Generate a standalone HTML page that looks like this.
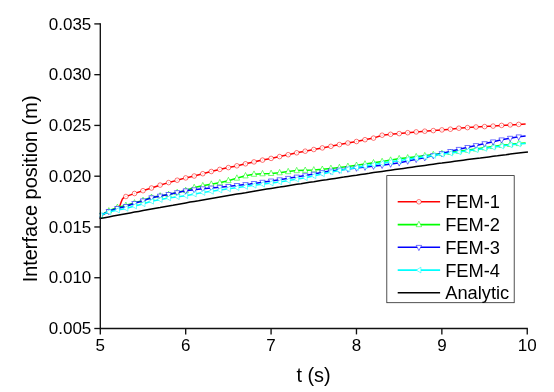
<!DOCTYPE html>
<html><head><meta charset="utf-8"><title>Interface position</title>
<style>html,body{margin:0;padding:0;background:#fff;}body{width:554px;height:392px;overflow:hidden;font-family:"Liberation Sans",sans-serif;}</style>
</head><body>
<svg width="554" height="392" viewBox="0 0 554 392" style="display:block;will-change:transform">
<rect width="554" height="392" fill="#fff"/>
<clipPath id="pc"><rect x="99.3" y="20" width="432" height="309"/></clipPath><g clip-path="url(#pc)">
<polyline points="100.5,216.0 108.5,211.5 117.0,208.5 119.6,206.5 121.0,202.6 122.4,199.0 124.0,197.4 125.7,196.6 134.1,193.6 142.8,190.8 151.5,188.0 159.8,185.2 168.5,182.6 177.1,180.2 185.6,177.9 194.2,176.0 202.7,173.7 210.9,171.6 219.6,169.5 228.2,167.6 236.7,165.9 245.3,163.8 253.9,161.9 262.5,160.1 271.0,158.4 279.5,156.6 288.1,154.7 296.6,152.8 305.2,151.2 313.7,149.5 322.3,147.9 330.9,146.3 339.4,144.6 348.0,143.0 356.4,141.5 364.9,139.7 373.4,138.1 382.1,135.2 390.7,134.3 399.4,133.6 407.8,132.7 416.3,131.9 424.9,131.2 433.4,130.6 441.8,129.9 450.3,129.2 458.9,128.2 467.4,127.6 475.8,127.0 484.6,126.6 493.2,126.1 501.5,125.4 510.1,124.9 518.6,124.4 525.6,123.9" fill="none" stroke="#ff0000" stroke-width="1.5" stroke-linejoin="round"/><circle cx="100.3" cy="216.0" r="2.3" fill="#fff" stroke="#ff0000" stroke-width="0.55"/><circle cx="100.3" cy="216.0" r="0.7" fill="#ff0000" opacity="0.25"/><circle cx="108.8" cy="211.4" r="2.3" fill="#fff" stroke="#ff0000" stroke-width="0.55"/><circle cx="108.8" cy="211.4" r="0.7" fill="#ff0000" opacity="0.25"/><circle cx="117.4" cy="208.2" r="2.3" fill="#fff" stroke="#ff0000" stroke-width="0.55"/><circle cx="117.4" cy="208.2" r="0.7" fill="#ff0000" opacity="0.25"/><circle cx="125.9" cy="196.5" r="2.3" fill="#fff" stroke="#ff0000" stroke-width="0.55"/><circle cx="125.9" cy="196.5" r="0.7" fill="#ff0000" opacity="0.25"/><circle cx="134.5" cy="193.5" r="2.3" fill="#fff" stroke="#ff0000" stroke-width="0.55"/><circle cx="134.5" cy="193.5" r="0.7" fill="#ff0000" opacity="0.25"/><circle cx="143.0" cy="190.7" r="2.3" fill="#fff" stroke="#ff0000" stroke-width="0.55"/><circle cx="143.0" cy="190.7" r="0.7" fill="#ff0000" opacity="0.25"/><circle cx="151.5" cy="188.0" r="2.3" fill="#fff" stroke="#ff0000" stroke-width="0.55"/><circle cx="151.5" cy="188.0" r="0.7" fill="#ff0000" opacity="0.25"/><circle cx="160.1" cy="185.1" r="2.3" fill="#fff" stroke="#ff0000" stroke-width="0.55"/><circle cx="160.1" cy="185.1" r="0.7" fill="#ff0000" opacity="0.25"/><circle cx="168.6" cy="182.6" r="2.3" fill="#fff" stroke="#ff0000" stroke-width="0.55"/><circle cx="168.6" cy="182.6" r="0.7" fill="#ff0000" opacity="0.25"/><circle cx="177.2" cy="180.2" r="2.3" fill="#fff" stroke="#ff0000" stroke-width="0.55"/><circle cx="177.2" cy="180.2" r="0.7" fill="#ff0000" opacity="0.25"/><circle cx="185.7" cy="177.9" r="2.3" fill="#fff" stroke="#ff0000" stroke-width="0.55"/><circle cx="185.7" cy="177.9" r="0.7" fill="#ff0000" opacity="0.25"/><circle cx="194.2" cy="176.0" r="2.3" fill="#fff" stroke="#ff0000" stroke-width="0.55"/><circle cx="194.2" cy="176.0" r="0.7" fill="#ff0000" opacity="0.25"/><circle cx="202.8" cy="173.7" r="2.3" fill="#fff" stroke="#ff0000" stroke-width="0.55"/><circle cx="202.8" cy="173.7" r="0.7" fill="#ff0000" opacity="0.25"/><circle cx="211.3" cy="171.5" r="2.3" fill="#fff" stroke="#ff0000" stroke-width="0.55"/><circle cx="211.3" cy="171.5" r="0.7" fill="#ff0000" opacity="0.25"/><circle cx="219.8" cy="169.4" r="2.3" fill="#fff" stroke="#ff0000" stroke-width="0.55"/><circle cx="219.8" cy="169.4" r="0.7" fill="#ff0000" opacity="0.25"/><circle cx="228.4" cy="167.6" r="2.3" fill="#fff" stroke="#ff0000" stroke-width="0.55"/><circle cx="228.4" cy="167.6" r="0.7" fill="#ff0000" opacity="0.25"/><circle cx="236.9" cy="165.8" r="2.3" fill="#fff" stroke="#ff0000" stroke-width="0.55"/><circle cx="236.9" cy="165.8" r="0.7" fill="#ff0000" opacity="0.25"/><circle cx="245.5" cy="163.8" r="2.3" fill="#fff" stroke="#ff0000" stroke-width="0.55"/><circle cx="245.5" cy="163.8" r="0.7" fill="#ff0000" opacity="0.25"/><circle cx="254.0" cy="161.9" r="2.3" fill="#fff" stroke="#ff0000" stroke-width="0.55"/><circle cx="254.0" cy="161.9" r="0.7" fill="#ff0000" opacity="0.25"/><circle cx="262.5" cy="160.1" r="2.3" fill="#fff" stroke="#ff0000" stroke-width="0.55"/><circle cx="262.5" cy="160.1" r="0.7" fill="#ff0000" opacity="0.25"/><circle cx="271.1" cy="158.4" r="2.3" fill="#fff" stroke="#ff0000" stroke-width="0.55"/><circle cx="271.1" cy="158.4" r="0.7" fill="#ff0000" opacity="0.25"/><circle cx="279.6" cy="156.6" r="2.3" fill="#fff" stroke="#ff0000" stroke-width="0.55"/><circle cx="279.6" cy="156.6" r="0.7" fill="#ff0000" opacity="0.25"/><circle cx="288.2" cy="154.7" r="2.3" fill="#fff" stroke="#ff0000" stroke-width="0.55"/><circle cx="288.2" cy="154.7" r="0.7" fill="#ff0000" opacity="0.25"/><circle cx="296.7" cy="152.8" r="2.3" fill="#fff" stroke="#ff0000" stroke-width="0.55"/><circle cx="296.7" cy="152.8" r="0.7" fill="#ff0000" opacity="0.25"/><circle cx="305.2" cy="151.2" r="2.3" fill="#fff" stroke="#ff0000" stroke-width="0.55"/><circle cx="305.2" cy="151.2" r="0.7" fill="#ff0000" opacity="0.25"/><circle cx="313.8" cy="149.5" r="2.3" fill="#fff" stroke="#ff0000" stroke-width="0.55"/><circle cx="313.8" cy="149.5" r="0.7" fill="#ff0000" opacity="0.25"/><circle cx="322.3" cy="147.9" r="2.3" fill="#fff" stroke="#ff0000" stroke-width="0.55"/><circle cx="322.3" cy="147.9" r="0.7" fill="#ff0000" opacity="0.25"/><circle cx="330.9" cy="146.3" r="2.3" fill="#fff" stroke="#ff0000" stroke-width="0.55"/><circle cx="330.9" cy="146.3" r="0.7" fill="#ff0000" opacity="0.25"/><circle cx="339.4" cy="144.6" r="2.3" fill="#fff" stroke="#ff0000" stroke-width="0.55"/><circle cx="339.4" cy="144.6" r="0.7" fill="#ff0000" opacity="0.25"/><circle cx="347.9" cy="143.0" r="2.3" fill="#fff" stroke="#ff0000" stroke-width="0.55"/><circle cx="347.9" cy="143.0" r="0.7" fill="#ff0000" opacity="0.25"/><circle cx="356.5" cy="141.5" r="2.3" fill="#fff" stroke="#ff0000" stroke-width="0.55"/><circle cx="356.5" cy="141.5" r="0.7" fill="#ff0000" opacity="0.25"/><circle cx="365.0" cy="139.7" r="2.3" fill="#fff" stroke="#ff0000" stroke-width="0.55"/><circle cx="365.0" cy="139.7" r="0.7" fill="#ff0000" opacity="0.25"/><circle cx="373.5" cy="138.1" r="2.3" fill="#fff" stroke="#ff0000" stroke-width="0.55"/><circle cx="373.5" cy="138.1" r="0.7" fill="#ff0000" opacity="0.25"/><circle cx="382.1" cy="135.2" r="2.3" fill="#fff" stroke="#ff0000" stroke-width="0.55"/><circle cx="382.1" cy="135.2" r="0.7" fill="#ff0000" opacity="0.25"/><circle cx="390.6" cy="134.3" r="2.3" fill="#fff" stroke="#ff0000" stroke-width="0.55"/><circle cx="390.6" cy="134.3" r="0.7" fill="#ff0000" opacity="0.25"/><circle cx="399.2" cy="133.6" r="2.3" fill="#fff" stroke="#ff0000" stroke-width="0.55"/><circle cx="399.2" cy="133.6" r="0.7" fill="#ff0000" opacity="0.25"/><circle cx="407.7" cy="132.7" r="2.3" fill="#fff" stroke="#ff0000" stroke-width="0.55"/><circle cx="407.7" cy="132.7" r="0.7" fill="#ff0000" opacity="0.25"/><circle cx="416.2" cy="131.9" r="2.3" fill="#fff" stroke="#ff0000" stroke-width="0.55"/><circle cx="416.2" cy="131.9" r="0.7" fill="#ff0000" opacity="0.25"/><circle cx="424.8" cy="131.2" r="2.3" fill="#fff" stroke="#ff0000" stroke-width="0.55"/><circle cx="424.8" cy="131.2" r="0.7" fill="#ff0000" opacity="0.25"/><circle cx="433.3" cy="130.6" r="2.3" fill="#fff" stroke="#ff0000" stroke-width="0.55"/><circle cx="433.3" cy="130.6" r="0.7" fill="#ff0000" opacity="0.25"/><circle cx="441.9" cy="129.9" r="2.3" fill="#fff" stroke="#ff0000" stroke-width="0.55"/><circle cx="441.9" cy="129.9" r="0.7" fill="#ff0000" opacity="0.25"/><circle cx="450.4" cy="129.2" r="2.3" fill="#fff" stroke="#ff0000" stroke-width="0.55"/><circle cx="450.4" cy="129.2" r="0.7" fill="#ff0000" opacity="0.25"/><circle cx="458.9" cy="128.2" r="2.3" fill="#fff" stroke="#ff0000" stroke-width="0.55"/><circle cx="458.9" cy="128.2" r="0.7" fill="#ff0000" opacity="0.25"/><circle cx="467.5" cy="127.6" r="2.3" fill="#fff" stroke="#ff0000" stroke-width="0.55"/><circle cx="467.5" cy="127.6" r="0.7" fill="#ff0000" opacity="0.25"/><circle cx="476.0" cy="127.0" r="2.3" fill="#fff" stroke="#ff0000" stroke-width="0.55"/><circle cx="476.0" cy="127.0" r="0.7" fill="#ff0000" opacity="0.25"/><circle cx="484.6" cy="126.6" r="2.3" fill="#fff" stroke="#ff0000" stroke-width="0.55"/><circle cx="484.6" cy="126.6" r="0.7" fill="#ff0000" opacity="0.25"/><circle cx="493.1" cy="126.1" r="2.3" fill="#fff" stroke="#ff0000" stroke-width="0.55"/><circle cx="493.1" cy="126.1" r="0.7" fill="#ff0000" opacity="0.25"/><circle cx="501.6" cy="125.4" r="2.3" fill="#fff" stroke="#ff0000" stroke-width="0.55"/><circle cx="501.6" cy="125.4" r="0.7" fill="#ff0000" opacity="0.25"/><circle cx="510.2" cy="124.9" r="2.3" fill="#fff" stroke="#ff0000" stroke-width="0.55"/><circle cx="510.2" cy="124.9" r="0.7" fill="#ff0000" opacity="0.25"/><circle cx="518.7" cy="124.4" r="2.3" fill="#fff" stroke="#ff0000" stroke-width="0.55"/><circle cx="518.7" cy="124.4" r="0.7" fill="#ff0000" opacity="0.25"/>
<polyline points="100.5,215.5 108.5,211.0 117.0,207.5 125.7,205.5 134.0,203.0 142.8,200.5 151.4,197.3 168.5,194.5 185.6,190.5 194.2,187.5 202.5,185.7 210.9,184.2 219.6,182.8 228.2,180.7 236.7,178.2 245.3,175.8 253.9,174.2 262.5,173.7 271.0,173.4 279.5,172.7 288.1,171.6 296.6,170.6 305.2,170.3 313.7,169.9 322.3,169.3 330.9,168.4 339.4,167.5 348.0,166.4 356.5,165.3 382.0,161.5 400.0,158.6 407.8,157.8 441.8,153.5 475.8,149.0 501.5,145.3 518.6,143.5 525.6,143.0" fill="none" stroke="#00ff00" stroke-width="1.5" stroke-linejoin="round"/><path d="M100.3,212.2 L103.0,217.6 L97.6,217.6 Z" fill="#fff" stroke="#00ff00" stroke-width="0.55"/><path d="M108.8,207.6 L111.5,213.0 L106.1,213.0 Z" fill="#fff" stroke="#00ff00" stroke-width="0.55"/><path d="M117.4,204.1 L120.1,209.5 L114.7,209.5 Z" fill="#fff" stroke="#00ff00" stroke-width="0.55"/><path d="M125.9,202.1 L128.6,207.5 L123.2,207.5 Z" fill="#fff" stroke="#00ff00" stroke-width="0.55"/><path d="M134.5,199.6 L137.2,205.0 L131.8,205.0 Z" fill="#fff" stroke="#00ff00" stroke-width="0.55"/><path d="M143.0,197.1 L145.7,202.5 L140.3,202.5 Z" fill="#fff" stroke="#00ff00" stroke-width="0.55"/><path d="M151.5,194.0 L154.2,199.4 L148.8,199.4 Z" fill="#fff" stroke="#00ff00" stroke-width="0.55"/><path d="M160.1,192.6 L162.8,198.0 L157.4,198.0 Z" fill="#fff" stroke="#00ff00" stroke-width="0.55"/><path d="M168.6,191.2 L171.3,196.6 L165.9,196.6 Z" fill="#fff" stroke="#00ff00" stroke-width="0.55"/><path d="M177.2,189.2 L179.9,194.6 L174.5,194.6 Z" fill="#fff" stroke="#00ff00" stroke-width="0.55"/><path d="M185.7,187.2 L188.4,192.6 L183.0,192.6 Z" fill="#fff" stroke="#00ff00" stroke-width="0.55"/><path d="M194.2,184.2 L196.9,189.6 L191.5,189.6 Z" fill="#fff" stroke="#00ff00" stroke-width="0.55"/><path d="M202.8,182.4 L205.5,187.8 L200.1,187.8 Z" fill="#fff" stroke="#00ff00" stroke-width="0.55"/><path d="M211.3,180.8 L214.0,186.2 L208.6,186.2 Z" fill="#fff" stroke="#00ff00" stroke-width="0.55"/><path d="M219.8,179.4 L222.5,184.8 L217.1,184.8 Z" fill="#fff" stroke="#00ff00" stroke-width="0.55"/><path d="M228.4,177.3 L231.1,182.7 L225.7,182.7 Z" fill="#fff" stroke="#00ff00" stroke-width="0.55"/><path d="M236.9,174.8 L239.6,180.2 L234.2,180.2 Z" fill="#fff" stroke="#00ff00" stroke-width="0.55"/><path d="M245.5,172.5 L248.2,177.9 L242.8,177.9 Z" fill="#fff" stroke="#00ff00" stroke-width="0.55"/><path d="M254.0,170.9 L256.7,176.3 L251.3,176.3 Z" fill="#fff" stroke="#00ff00" stroke-width="0.55"/><path d="M262.5,170.4 L265.2,175.8 L259.8,175.8 Z" fill="#fff" stroke="#00ff00" stroke-width="0.55"/><path d="M271.1,170.1 L273.8,175.5 L268.4,175.5 Z" fill="#fff" stroke="#00ff00" stroke-width="0.55"/><path d="M279.6,169.4 L282.3,174.8 L276.9,174.8 Z" fill="#fff" stroke="#00ff00" stroke-width="0.55"/><path d="M288.2,168.3 L290.9,173.7 L285.5,173.7 Z" fill="#fff" stroke="#00ff00" stroke-width="0.55"/><path d="M296.7,167.3 L299.4,172.7 L294.0,172.7 Z" fill="#fff" stroke="#00ff00" stroke-width="0.55"/><path d="M305.2,167.0 L307.9,172.4 L302.5,172.4 Z" fill="#fff" stroke="#00ff00" stroke-width="0.55"/><path d="M313.8,166.6 L316.5,172.0 L311.1,172.0 Z" fill="#fff" stroke="#00ff00" stroke-width="0.55"/><path d="M322.3,166.0 L325.0,171.4 L319.6,171.4 Z" fill="#fff" stroke="#00ff00" stroke-width="0.55"/><path d="M330.9,165.1 L333.6,170.5 L328.2,170.5 Z" fill="#fff" stroke="#00ff00" stroke-width="0.55"/><path d="M339.4,164.2 L342.1,169.6 L336.7,169.6 Z" fill="#fff" stroke="#00ff00" stroke-width="0.55"/><path d="M347.9,163.1 L350.6,168.5 L345.2,168.5 Z" fill="#fff" stroke="#00ff00" stroke-width="0.55"/><path d="M356.5,162.0 L359.2,167.4 L353.8,167.4 Z" fill="#fff" stroke="#00ff00" stroke-width="0.55"/><path d="M365.0,160.7 L367.7,166.1 L362.3,166.1 Z" fill="#fff" stroke="#00ff00" stroke-width="0.55"/><path d="M373.5,159.5 L376.2,164.9 L370.8,164.9 Z" fill="#fff" stroke="#00ff00" stroke-width="0.55"/><path d="M382.1,158.2 L384.8,163.6 L379.4,163.6 Z" fill="#fff" stroke="#00ff00" stroke-width="0.55"/><path d="M390.6,156.8 L393.3,162.2 L387.9,162.2 Z" fill="#fff" stroke="#00ff00" stroke-width="0.55"/><path d="M399.2,155.4 L401.9,160.8 L396.5,160.8 Z" fill="#fff" stroke="#00ff00" stroke-width="0.55"/><path d="M407.7,154.5 L410.4,159.9 L405.0,159.9 Z" fill="#fff" stroke="#00ff00" stroke-width="0.55"/><path d="M416.2,153.4 L418.9,158.8 L413.5,158.8 Z" fill="#fff" stroke="#00ff00" stroke-width="0.55"/><path d="M424.8,152.4 L427.5,157.8 L422.1,157.8 Z" fill="#fff" stroke="#00ff00" stroke-width="0.55"/><path d="M433.3,151.3 L436.0,156.7 L430.6,156.7 Z" fill="#fff" stroke="#00ff00" stroke-width="0.55"/><path d="M441.9,150.2 L444.6,155.6 L439.2,155.6 Z" fill="#fff" stroke="#00ff00" stroke-width="0.55"/><path d="M450.4,149.1 L453.1,154.5 L447.7,154.5 Z" fill="#fff" stroke="#00ff00" stroke-width="0.55"/><path d="M458.9,147.9 L461.6,153.3 L456.2,153.3 Z" fill="#fff" stroke="#00ff00" stroke-width="0.55"/><path d="M467.5,146.8 L470.2,152.2 L464.8,152.2 Z" fill="#fff" stroke="#00ff00" stroke-width="0.55"/><path d="M476.0,145.7 L478.7,151.1 L473.3,151.1 Z" fill="#fff" stroke="#00ff00" stroke-width="0.55"/><path d="M484.6,144.4 L487.3,149.8 L481.9,149.8 Z" fill="#fff" stroke="#00ff00" stroke-width="0.55"/><path d="M493.1,143.2 L495.8,148.6 L490.4,148.6 Z" fill="#fff" stroke="#00ff00" stroke-width="0.55"/><path d="M501.6,142.0 L504.3,147.4 L498.9,147.4 Z" fill="#fff" stroke="#00ff00" stroke-width="0.55"/><path d="M510.2,141.1 L512.9,146.5 L507.5,146.5 Z" fill="#fff" stroke="#00ff00" stroke-width="0.55"/><path d="M518.7,140.2 L521.4,145.6 L516.0,145.6 Z" fill="#fff" stroke="#00ff00" stroke-width="0.55"/>
<polyline points="100.5,215.5 108.5,211.5 117.0,208.5 125.7,206.5 134.0,203.5 142.8,200.9 151.4,197.7 168.5,194.4 185.6,190.8 202.7,188.7 220.0,187.3 250.0,184.0 279.5,179.7 305.3,175.6 330.0,171.1 356.5,168.0 382.0,165.2 400.0,162.7 407.8,161.0 424.0,157.8 441.8,153.5 458.0,149.5 475.8,145.5 493.2,141.8 501.5,139.8 510.1,138.2 518.6,136.8 525.6,136.0" fill="none" stroke="#0000ff" stroke-width="1.5" stroke-linejoin="round"/><path d="M100.3,218.8 L103.0,213.6 L97.6,213.6 Z" fill="#fff" stroke="#0000ff" stroke-width="0.55"/><path d="M108.8,214.7 L111.5,209.5 L106.1,209.5 Z" fill="#fff" stroke="#0000ff" stroke-width="0.55"/><path d="M117.4,211.7 L120.1,206.5 L114.7,206.5 Z" fill="#fff" stroke="#0000ff" stroke-width="0.55"/><path d="M125.9,209.7 L128.6,204.5 L123.2,204.5 Z" fill="#fff" stroke="#0000ff" stroke-width="0.55"/><path d="M134.5,206.7 L137.2,201.5 L131.8,201.5 Z" fill="#fff" stroke="#0000ff" stroke-width="0.55"/><path d="M143.0,204.1 L145.7,198.9 L140.3,198.9 Z" fill="#fff" stroke="#0000ff" stroke-width="0.55"/><path d="M151.5,201.0 L154.2,195.8 L148.8,195.8 Z" fill="#fff" stroke="#0000ff" stroke-width="0.55"/><path d="M160.1,199.3 L162.8,194.1 L157.4,194.1 Z" fill="#fff" stroke="#0000ff" stroke-width="0.55"/><path d="M168.6,197.7 L171.3,192.5 L165.9,192.5 Z" fill="#fff" stroke="#0000ff" stroke-width="0.55"/><path d="M177.2,195.9 L179.9,190.7 L174.5,190.7 Z" fill="#fff" stroke="#0000ff" stroke-width="0.55"/><path d="M185.7,194.1 L188.4,188.9 L183.0,188.9 Z" fill="#fff" stroke="#0000ff" stroke-width="0.55"/><path d="M194.2,193.0 L196.9,187.8 L191.5,187.8 Z" fill="#fff" stroke="#0000ff" stroke-width="0.55"/><path d="M202.8,192.0 L205.5,186.8 L200.1,186.8 Z" fill="#fff" stroke="#0000ff" stroke-width="0.55"/><path d="M211.3,191.3 L214.0,186.1 L208.6,186.1 Z" fill="#fff" stroke="#0000ff" stroke-width="0.55"/><path d="M219.8,190.6 L222.5,185.4 L217.1,185.4 Z" fill="#fff" stroke="#0000ff" stroke-width="0.55"/><path d="M228.4,189.7 L231.1,184.5 L225.7,184.5 Z" fill="#fff" stroke="#0000ff" stroke-width="0.55"/><path d="M236.9,188.7 L239.6,183.5 L234.2,183.5 Z" fill="#fff" stroke="#0000ff" stroke-width="0.55"/><path d="M245.5,187.8 L248.2,182.6 L242.8,182.6 Z" fill="#fff" stroke="#0000ff" stroke-width="0.55"/><path d="M254.0,186.7 L256.7,181.5 L251.3,181.5 Z" fill="#fff" stroke="#0000ff" stroke-width="0.55"/><path d="M262.5,185.5 L265.2,180.3 L259.8,180.3 Z" fill="#fff" stroke="#0000ff" stroke-width="0.55"/><path d="M271.1,184.2 L273.8,179.0 L268.4,179.0 Z" fill="#fff" stroke="#0000ff" stroke-width="0.55"/><path d="M279.6,183.0 L282.3,177.8 L276.9,177.8 Z" fill="#fff" stroke="#0000ff" stroke-width="0.55"/><path d="M288.2,181.6 L290.9,176.4 L285.5,176.4 Z" fill="#fff" stroke="#0000ff" stroke-width="0.55"/><path d="M296.7,180.3 L299.4,175.1 L294.0,175.1 Z" fill="#fff" stroke="#0000ff" stroke-width="0.55"/><path d="M305.2,178.9 L307.9,173.7 L302.5,173.7 Z" fill="#fff" stroke="#0000ff" stroke-width="0.55"/><path d="M313.8,177.4 L316.5,172.2 L311.1,172.2 Z" fill="#fff" stroke="#0000ff" stroke-width="0.55"/><path d="M322.3,175.8 L325.0,170.6 L319.6,170.6 Z" fill="#fff" stroke="#0000ff" stroke-width="0.55"/><path d="M330.9,174.3 L333.6,169.1 L328.2,169.1 Z" fill="#fff" stroke="#0000ff" stroke-width="0.55"/><path d="M339.4,173.3 L342.1,168.1 L336.7,168.1 Z" fill="#fff" stroke="#0000ff" stroke-width="0.55"/><path d="M347.9,172.3 L350.6,167.1 L345.2,167.1 Z" fill="#fff" stroke="#0000ff" stroke-width="0.55"/><path d="M356.5,171.3 L359.2,166.1 L353.8,166.1 Z" fill="#fff" stroke="#0000ff" stroke-width="0.55"/><path d="M365.0,170.4 L367.7,165.2 L362.3,165.2 Z" fill="#fff" stroke="#0000ff" stroke-width="0.55"/><path d="M373.5,169.4 L376.2,164.2 L370.8,164.2 Z" fill="#fff" stroke="#0000ff" stroke-width="0.55"/><path d="M382.1,168.5 L384.8,163.3 L379.4,163.3 Z" fill="#fff" stroke="#0000ff" stroke-width="0.55"/><path d="M390.6,167.3 L393.3,162.1 L387.9,162.1 Z" fill="#fff" stroke="#0000ff" stroke-width="0.55"/><path d="M399.2,166.1 L401.9,160.9 L396.5,160.9 Z" fill="#fff" stroke="#0000ff" stroke-width="0.55"/><path d="M407.7,164.3 L410.4,159.1 L405.0,159.1 Z" fill="#fff" stroke="#0000ff" stroke-width="0.55"/><path d="M416.2,162.6 L418.9,157.4 L413.5,157.4 Z" fill="#fff" stroke="#0000ff" stroke-width="0.55"/><path d="M424.8,160.9 L427.5,155.7 L422.1,155.7 Z" fill="#fff" stroke="#0000ff" stroke-width="0.55"/><path d="M433.3,158.8 L436.0,153.6 L430.6,153.6 Z" fill="#fff" stroke="#0000ff" stroke-width="0.55"/><path d="M441.9,156.8 L444.6,151.6 L439.2,151.6 Z" fill="#fff" stroke="#0000ff" stroke-width="0.55"/><path d="M450.4,154.7 L453.1,149.5 L447.7,149.5 Z" fill="#fff" stroke="#0000ff" stroke-width="0.55"/><path d="M458.9,152.6 L461.6,147.4 L456.2,147.4 Z" fill="#fff" stroke="#0000ff" stroke-width="0.55"/><path d="M467.5,150.7 L470.2,145.5 L464.8,145.5 Z" fill="#fff" stroke="#0000ff" stroke-width="0.55"/><path d="M476.0,148.8 L478.7,143.6 L473.3,143.6 Z" fill="#fff" stroke="#0000ff" stroke-width="0.55"/><path d="M484.6,146.9 L487.3,141.7 L481.9,141.7 Z" fill="#fff" stroke="#0000ff" stroke-width="0.55"/><path d="M493.1,145.1 L495.8,139.9 L490.4,139.9 Z" fill="#fff" stroke="#0000ff" stroke-width="0.55"/><path d="M501.6,143.1 L504.3,137.9 L498.9,137.9 Z" fill="#fff" stroke="#0000ff" stroke-width="0.55"/><path d="M510.2,141.5 L512.9,136.3 L507.5,136.3 Z" fill="#fff" stroke="#0000ff" stroke-width="0.55"/><path d="M518.7,140.1 L521.4,134.9 L516.0,134.9 Z" fill="#fff" stroke="#0000ff" stroke-width="0.55"/>
<polyline points="100.4,215.3 108.5,212.1 116.7,210.3 125.7,208.5 133.8,206.3 142.8,204.0 151.4,201.3 168.5,198.0 185.6,195.7 202.7,192.6 250.0,185.8 279.5,182.0 305.3,177.8 330.0,172.2 356.5,167.5 382.0,163.3 400.0,160.4 407.8,159.3 441.8,154.3 475.8,149.8 501.5,146.1 518.6,144.0 525.6,143.5" fill="none" stroke="#00ffff" stroke-width="1.5" stroke-linejoin="round"/><path d="M97.6,215.3 L102.3,212.5 L102.3,218.1 Z" fill="#fff" stroke="#00ffff" stroke-width="0.55"/><path d="M106.1,212.0 L110.8,209.2 L110.8,214.8 Z" fill="#fff" stroke="#00ffff" stroke-width="0.55"/><path d="M114.7,210.2 L119.4,207.4 L119.4,213.0 Z" fill="#fff" stroke="#00ffff" stroke-width="0.55"/><path d="M123.2,208.4 L127.9,205.6 L127.9,211.2 Z" fill="#fff" stroke="#00ffff" stroke-width="0.55"/><path d="M131.8,206.1 L136.5,203.3 L136.5,208.9 Z" fill="#fff" stroke="#00ffff" stroke-width="0.55"/><path d="M140.3,203.9 L145.0,201.1 L145.0,206.7 Z" fill="#fff" stroke="#00ffff" stroke-width="0.55"/><path d="M148.8,201.3 L153.5,198.5 L153.5,204.1 Z" fill="#fff" stroke="#00ffff" stroke-width="0.55"/><path d="M157.4,199.6 L162.1,196.8 L162.1,202.4 Z" fill="#fff" stroke="#00ffff" stroke-width="0.55"/><path d="M165.9,198.0 L170.6,195.2 L170.6,200.8 Z" fill="#fff" stroke="#00ffff" stroke-width="0.55"/><path d="M174.5,196.8 L179.2,194.0 L179.2,199.6 Z" fill="#fff" stroke="#00ffff" stroke-width="0.55"/><path d="M183.0,195.7 L187.7,192.9 L187.7,198.5 Z" fill="#fff" stroke="#00ffff" stroke-width="0.55"/><path d="M191.5,194.1 L196.2,191.3 L196.2,196.9 Z" fill="#fff" stroke="#00ffff" stroke-width="0.55"/><path d="M200.1,192.6 L204.8,189.8 L204.8,195.4 Z" fill="#fff" stroke="#00ffff" stroke-width="0.55"/><path d="M208.6,191.4 L213.3,188.6 L213.3,194.2 Z" fill="#fff" stroke="#00ffff" stroke-width="0.55"/><path d="M217.1,190.1 L221.8,187.3 L221.8,192.9 Z" fill="#fff" stroke="#00ffff" stroke-width="0.55"/><path d="M225.7,188.9 L230.4,186.1 L230.4,191.7 Z" fill="#fff" stroke="#00ffff" stroke-width="0.55"/><path d="M234.2,187.7 L238.9,184.9 L238.9,190.5 Z" fill="#fff" stroke="#00ffff" stroke-width="0.55"/><path d="M242.8,186.5 L247.5,183.7 L247.5,189.3 Z" fill="#fff" stroke="#00ffff" stroke-width="0.55"/><path d="M251.3,185.3 L256.0,182.5 L256.0,188.1 Z" fill="#fff" stroke="#00ffff" stroke-width="0.55"/><path d="M259.8,184.2 L264.5,181.4 L264.5,187.0 Z" fill="#fff" stroke="#00ffff" stroke-width="0.55"/><path d="M268.4,183.1 L273.1,180.3 L273.1,185.9 Z" fill="#fff" stroke="#00ffff" stroke-width="0.55"/><path d="M276.9,182.0 L281.6,179.2 L281.6,184.8 Z" fill="#fff" stroke="#00ffff" stroke-width="0.55"/><path d="M285.5,180.6 L290.2,177.8 L290.2,183.4 Z" fill="#fff" stroke="#00ffff" stroke-width="0.55"/><path d="M294.0,179.2 L298.7,176.4 L298.7,182.0 Z" fill="#fff" stroke="#00ffff" stroke-width="0.55"/><path d="M302.5,177.8 L307.2,175.0 L307.2,180.6 Z" fill="#fff" stroke="#00ffff" stroke-width="0.55"/><path d="M311.1,175.9 L315.8,173.1 L315.8,178.7 Z" fill="#fff" stroke="#00ffff" stroke-width="0.55"/><path d="M319.6,173.9 L324.3,171.1 L324.3,176.7 Z" fill="#fff" stroke="#00ffff" stroke-width="0.55"/><path d="M328.2,172.0 L332.9,169.2 L332.9,174.8 Z" fill="#fff" stroke="#00ffff" stroke-width="0.55"/><path d="M336.7,170.5 L341.4,167.7 L341.4,173.3 Z" fill="#fff" stroke="#00ffff" stroke-width="0.55"/><path d="M345.2,169.0 L349.9,166.2 L349.9,171.8 Z" fill="#fff" stroke="#00ffff" stroke-width="0.55"/><path d="M353.8,167.5 L358.5,164.7 L358.5,170.3 Z" fill="#fff" stroke="#00ffff" stroke-width="0.55"/><path d="M362.3,166.1 L367.0,163.3 L367.0,168.9 Z" fill="#fff" stroke="#00ffff" stroke-width="0.55"/><path d="M370.8,164.7 L375.5,161.9 L375.5,167.5 Z" fill="#fff" stroke="#00ffff" stroke-width="0.55"/><path d="M379.4,163.3 L384.1,160.5 L384.1,166.1 Z" fill="#fff" stroke="#00ffff" stroke-width="0.55"/><path d="M387.9,161.9 L392.6,159.1 L392.6,164.7 Z" fill="#fff" stroke="#00ffff" stroke-width="0.55"/><path d="M396.5,160.5 L401.2,157.7 L401.2,163.3 Z" fill="#fff" stroke="#00ffff" stroke-width="0.55"/><path d="M405.0,159.3 L409.7,156.5 L409.7,162.1 Z" fill="#fff" stroke="#00ffff" stroke-width="0.55"/><path d="M413.5,158.1 L418.2,155.3 L418.2,160.9 Z" fill="#fff" stroke="#00ffff" stroke-width="0.55"/><path d="M422.1,156.8 L426.8,154.0 L426.8,159.6 Z" fill="#fff" stroke="#00ffff" stroke-width="0.55"/><path d="M430.6,155.5 L435.3,152.7 L435.3,158.3 Z" fill="#fff" stroke="#00ffff" stroke-width="0.55"/><path d="M439.2,154.3 L443.9,151.5 L443.9,157.1 Z" fill="#fff" stroke="#00ffff" stroke-width="0.55"/><path d="M447.7,153.2 L452.4,150.4 L452.4,156.0 Z" fill="#fff" stroke="#00ffff" stroke-width="0.55"/><path d="M456.2,152.0 L460.9,149.2 L460.9,154.8 Z" fill="#fff" stroke="#00ffff" stroke-width="0.55"/><path d="M464.8,150.9 L469.5,148.1 L469.5,153.7 Z" fill="#fff" stroke="#00ffff" stroke-width="0.55"/><path d="M473.3,149.8 L478.0,147.0 L478.0,152.6 Z" fill="#fff" stroke="#00ffff" stroke-width="0.55"/><path d="M481.9,148.5 L486.6,145.7 L486.6,151.3 Z" fill="#fff" stroke="#00ffff" stroke-width="0.55"/><path d="M490.4,147.3 L495.1,144.5 L495.1,150.1 Z" fill="#fff" stroke="#00ffff" stroke-width="0.55"/><path d="M498.9,146.1 L503.6,143.3 L503.6,148.9 Z" fill="#fff" stroke="#00ffff" stroke-width="0.55"/><path d="M507.5,145.0 L512.2,142.2 L512.2,147.8 Z" fill="#fff" stroke="#00ffff" stroke-width="0.55"/><path d="M516.0,144.0 L520.7,141.2 L520.7,146.8 Z" fill="#fff" stroke="#00ffff" stroke-width="0.55"/>
<polyline points="100.3,218.5 104.6,217.7 108.8,216.9 113.1,216.1 117.4,215.3 121.6,214.5 125.9,213.7 130.2,212.9 134.5,212.1 138.7,211.4 143.0,210.6 147.3,209.8 151.5,209.0 155.8,208.2 160.1,207.5 164.3,206.7 168.6,205.9 172.9,205.2 177.2,204.4 181.4,203.7 185.7,202.9 190.0,202.1 194.2,201.4 198.5,200.7 202.8,199.9 207.0,199.2 211.3,198.4 215.6,197.7 219.8,197.0 224.1,196.2 228.4,195.5 232.7,194.8 236.9,194.1 241.2,193.4 245.5,192.7 249.7,191.9 254.0,191.2 258.3,190.5 262.5,189.8 266.8,189.1 271.1,188.4 275.3,187.7 279.6,187.1 283.9,186.4 288.2,185.7 292.4,185.0 296.7,184.3 301.0,183.7 305.2,183.0 309.5,182.3 313.8,181.7 318.0,181.0 322.3,180.3 326.6,179.7 330.9,179.0 335.1,178.4 339.4,177.7 343.7,177.1 347.9,176.4 352.2,175.8 356.5,175.2 360.7,174.5 365.0,173.9 369.3,173.3 373.5,172.6 377.8,172.0 382.1,171.4 386.4,170.8 390.6,170.2 394.9,169.6 399.2,169.0 403.4,168.4 407.7,167.8 412.0,167.2 416.2,166.6 420.5,166.0 424.8,165.4 429.1,164.8 433.3,164.2 437.6,163.6 441.9,163.1 446.1,162.5 450.4,161.9 454.7,161.3 458.9,160.8 463.2,160.2 467.5,159.6 471.7,159.1 476.0,158.5 480.3,158.0 484.6,157.4 488.8,156.9 493.1,156.3 497.4,155.8 501.6,155.2 505.9,154.7 510.2,154.1 514.4,153.6 518.7,153.0 523.0,152.5 527.2,152.0" fill="none" stroke="#000" stroke-width="1.5" stroke-linecap="square"/>
</g>
<g stroke="#111" stroke-width="1.35" fill="none">
<path d="M100.3,23.299999999999997 V328.5 H527.85"/>
<path d="M94.3,328.50 H100.3"/>
<path d="M94.3,277.73 H100.3"/>
<path d="M94.3,226.97 H100.3"/>
<path d="M94.3,176.20 H100.3"/>
<path d="M94.3,125.43 H100.3"/>
<path d="M94.3,74.67 H100.3"/>
<path d="M94.3,23.90 H100.3"/>
<path d="M100.30,328.5 V334.4"/>
<path d="M185.69,328.5 V334.4"/>
<path d="M271.08,328.5 V334.4"/>
<path d="M356.47,328.5 V334.4"/>
<path d="M441.86,328.5 V334.4"/>
<path d="M527.25,328.5 V334.4"/>
</g>
<g font-family="Liberation Sans, sans-serif" font-size="17px" fill="#000">
<text x="91.3" y="334.2" text-anchor="end">0.005</text>
<text x="91.3" y="283.4" text-anchor="end">0.010</text>
<text x="91.3" y="232.7" text-anchor="end">0.015</text>
<text x="91.3" y="181.9" text-anchor="end">0.020</text>
<text x="91.3" y="131.1" text-anchor="end">0.025</text>
<text x="91.3" y="80.4" text-anchor="end">0.030</text>
<text x="91.3" y="29.6" text-anchor="end">0.035</text>
<text x="100.3" y="351.2" text-anchor="middle">5</text>
<text x="185.7" y="351.2" text-anchor="middle">6</text>
<text x="271.1" y="351.2" text-anchor="middle">7</text>
<text x="356.5" y="351.2" text-anchor="middle">8</text>
<text x="441.9" y="351.2" text-anchor="middle">9</text>
<text x="527.2" y="351.2" text-anchor="middle">10</text>
</g>
<g font-family="Liberation Sans, sans-serif" font-size="19.9px" fill="#000">
<text x="313.5" y="381.6" text-anchor="middle">t (s)</text>
<text transform="translate(37.0,188.9) rotate(-90)" text-anchor="middle">Interface position (m)</text>
</g>
<rect x="386.8" y="175.6" width="127.4" height="127.1" fill="#fff" stroke="#262626" stroke-width="0.8"/>
<g font-family="Liberation Sans, sans-serif" font-size="18.3px" fill="#000">
<path d="M397.7,201.8 H440.1" stroke="#ff0000" stroke-width="1.6" fill="none"/>
<circle cx="418.9" cy="201.8" r="2.3" fill="#fff" stroke="#ff0000" stroke-width="0.55"/><circle cx="418.9" cy="201.8" r="0.7" fill="#ff0000" opacity="0.25"/>
<text x="445.2" y="208.3">FEM-1</text>
<path d="M397.7,224.6 H440.1" stroke="#00ff00" stroke-width="1.6" fill="none"/>
<path d="M418.9,221.2 L421.6,226.7 L416.2,226.7 Z" fill="#fff" stroke="#00ff00" stroke-width="0.55"/>
<text x="445.2" y="231.1">FEM-2</text>
<path d="M397.7,247.3 H440.1" stroke="#0000ff" stroke-width="1.6" fill="none"/>
<path d="M418.9,250.6 L421.6,245.4 L416.2,245.4 Z" fill="#fff" stroke="#0000ff" stroke-width="0.55"/>
<text x="445.2" y="253.8">FEM-3</text>
<path d="M397.7,270.1 H440.1" stroke="#00ffff" stroke-width="1.6" fill="none"/>
<path d="M416.2,270.1 L420.9,267.2 L420.9,272.9 Z" fill="#fff" stroke="#00ffff" stroke-width="0.55"/>
<text x="445.2" y="276.6">FEM-4</text>
<path d="M397.7,292.8 H440.1" stroke="#000" stroke-width="1.6" fill="none"/>
<text x="445.2" y="299.3">Analytic</text>
</g>
</svg>
</body></html>
